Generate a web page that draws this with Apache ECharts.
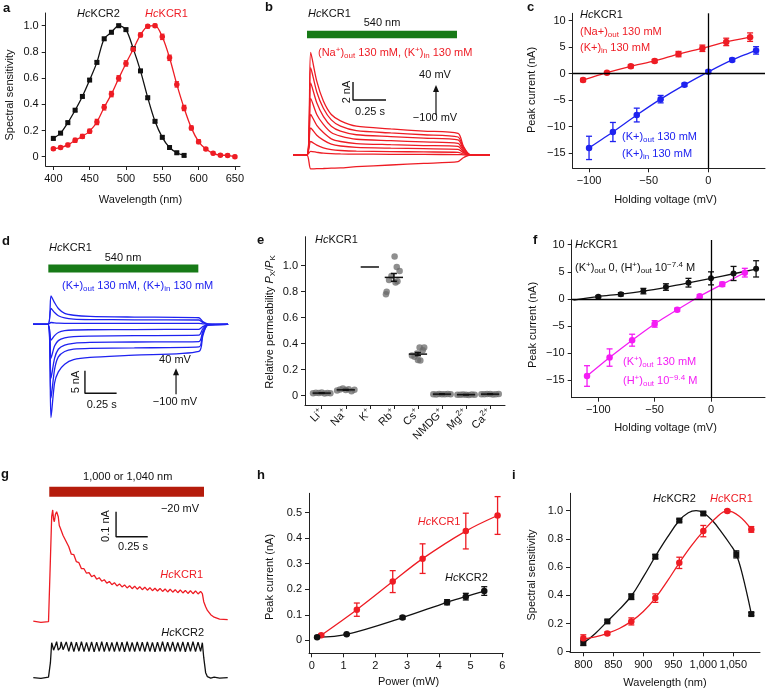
<!DOCTYPE html>
<html><head><meta charset="utf-8">
<script src="https://cdn.jsdelivr.net/npm/echarts@6.0.0/dist/echarts.min.js"></script>
<style>html,body{margin:0;padding:0;background:#fff;}#chart{width:769px;height:693px;}</style>
</head><body><div id="chart"></div>
<script>
const FONT = '"Liberation Sans", Arial, Helvetica, sans-serif';
const RED = '#ee1c24', BLUE = '#1e22f0', MAG = '#f41cf4', BLK = '#111111', GREEN = '#177a17', DKRED = '#b51c0c', GREY = '#6a6a6a';

// ---------- panel a : spectral sensitivity (visible)
const aWl2 = [400,410,420,430,440,450,460,470,480,490,500,510,520,530,540,550,560,570,580];
const aKcr2 = [0.14,0.18,0.26,0.355,0.46,0.585,0.72,0.90,0.95,1.0,0.97,0.825,0.655,0.45,0.27,0.148,0.07,0.03,0.01];
const aKcr2Err = [0.012,0.01,0.01,0.01,0.01,0.01,0.01,0.01,0.01,0.01,0.01,0.01,0.01,0.01,0.01,0.01,0.01,0.01,0.01];
const aWl1 = [400,410,420,430,440,450,460,470,480,490,500,510,520,530,540,550,560,570,580,590,600,610,620,630,640,650];
const aKcr1 = [0.06,0.07,0.09,0.125,0.155,0.195,0.265,0.377,0.478,0.598,0.712,0.82,0.93,0.995,1.0,0.915,0.755,0.552,0.372,0.22,0.115,0.058,0.026,0.012,0.01,0.0];
const aKcr1Err = [0.01,0.01,0.012,0.015,0.015,0.015,0.02,0.02,0.02,0.02,0.02,0.015,0.015,0.012,0.012,0.02,0.02,0.02,0.02,0.015,0.015,0.01,0.01,0.01,0.01,0.01];
const aXTicks = [400,450,500,550,600,650];
const aYTicks = [0,0.2,0.4,0.6,0.8,1.0];

// ---------- panel b : HcKCR1 photocurrents, Na out / K in (time s, current nA)
const bTime = [0,0.105,0.134,0.18,0.23,0.29,0.36,0.48,0.74,0.99,1.25,1.29,1.34,1.49];
const bTrace1 = [0,0,11.4,8.2,6.0,4.5,3.8,3.2,2.9,2.65,2.4,1.0,0.05,0];
const bTrace2 = [0,0,9.7,7.0,5.2,3.9,3.2,2.7,2.45,2.25,2.0,0.85,0.04,0];
const bTrace3 = [0,0,8.0,5.8,4.3,3.2,2.65,2.25,2.05,1.87,1.67,0.7,0.03,0];
const bTrace4 = [0,0,6.3,4.5,3.4,2.5,2.1,1.75,1.6,1.45,1.3,0.55,0.02,0];
const bTrace5 = [0,0,4.5,3.3,2.5,1.8,1.5,1.27,1.15,1.05,0.96,0.4,0.02,0];
const bTrace6 = [0,0,3.0,2.2,1.65,1.2,1.0,0.85,0.76,0.7,0.63,0.26,0,0];
const bTrace7 = [0,0,1.5,1.1,0.8,0.6,0.5,0.42,0.38,0.34,0.3,0.12,0,0];
const bTrace8 = [0,0,0.4,0.3,0.2,0.15,0.12,0.1,0.08,0.06,0.05,0.02,0,0];
const bTrace9 = [0,0,-1.55,-1.52,-1.5,-1.46,-1.43,-1.3,-1.11,-0.93,-0.74,-0.3,0,0];
const bLight = [[0.106,13.4],[1.242,13.4]];
const bScaleBar = [[0.4545,8.11],[0.4545,6.11],[0.7045,6.11]];
const bArrow = [[1.083,4.44],[1.083,7.39]];

// ---------- panel c : I-V
const cNaV = [-105,-85,-65,-45,-25,-5,15,35];
const cNaI = [-1.2,0.2,1.4,2.4,3.7,4.8,6.0,6.9];
const cNaErr = [0.3,0.2,0.3,0.3,0.5,0.6,0.7,0.8];
const cKV = [-100,-80,-60,-40,-20,0,20,40];
const cKI = [-14.0,-11.0,-7.8,-4.8,-2.1,0.35,2.6,4.4];
const cKErr = [2.2,1.8,1.3,0.7,0.3,0.3,0.3,0.7];
const cXTicks = [-100,-50,0];
const cYTicks = [-15,-10,-5,0,5,10];

// ---------- panel d : HcKCR1 photocurrents, K out / K in
const dTime = [0,0.118,0.142,0.17,0.2,0.25,0.32,0.45,0.8,1.31,1.34,1.38,1.54];
const dTrace1 = [0,0,6.3,4.8,3.5,2.4,2.0,1.75,1.6,1.45,0.6,0.1,0];
const dTrace2 = [0,0,3.5,2.6,1.9,1.4,1.15,1.05,1.0,0.95,0.4,0.05,0];
const dTrace3 = [0,0,0.4,0.3,0.25,0.22,0.2,0.2,0.2,0.2,0.1,0,0];
const dTrace4 = [0,0,-3.5,-2.5,-1.8,-1.4,-1.25,-1.2,-1.15,-1.1,-0.5,-0.05,0];
const dTrace5 = [0,0,-7.5,-4.8,-3.6,-3.0,-2.7,-2.6,-2.5,-2.4,-1.0,-0.1,0];
const dTrace6 = [0,0,-11.9,-7.5,-5.5,-4.6,-4.2,-4.0,-3.9,-3.8,-1.6,-0.1,0];
const dTrace7 = [0,0,-16.3,-10.0,-7.2,-6.0,-5.5,-5.3,-5.2,-5.0,-2.1,-0.2,0];
const dTrace8 = [0,0,-20.6,-13.0,-10.5,-8.8,-7.8,-7.3,-6.8,-6.0,-2.6,-0.2,0];
const dLight = [[0.121,12.3],[1.305,12.3]];
const dScaleBar = [[0.41,-10.23],[0.41,-15.23],[0.66,-15.23]];
const dArrow = [[1.129,-15.45],[1.129,-10.49]];

// ---------- panel e : relative permeability
const eIons = ['Li','Na','K','Rb','Cs','NMDG','Mg','Ca'];
const eCharge = ['+','+','+','+','+','+','2+','2+'];
const eMean = [0.02,0.045,0.99,0.91,0.32,0.012,0.008,0.012];
const eSem = [0.002,0.003,0,0.03,0.012,0.002,0.001,0.002];
const eLi = [0.018,0.022,0.02,0.025,0.016,0.021,0.019];
const eNa = [0.04,0.048,0.055,0.043,0.05,0.035,0.045];
const eRb = [1.07,0.99,0.96,0.92,0.89,0.87,0.88,0.80,0.78];
const eCs = [0.37,0.37,0.325,0.30,0.31,0.275,0.27,0.35];
const eNmdg = [0.012,0.01,0.014,0.012,0.011,0.013,0.012];
const eMg = [0.008,0.007,0.009,0.008,0.006,0.009,0.008];
const eCa = [0.012,0.011,0.014,0.013,0.01,0.012,0.013];
const eJit7 = [-0.36,-0.24,-0.12,0,0.12,0.24,0.36];
const eRbJit = [0.03,0.12,0.24,-0.1,-0.2,0.07,0.15,-0.3,-0.33];
const eCsJit = [0.07,0.26,-0.04,-0.14,-0.25,0,0.1,0.2];
const eYTicks = [0,0.2,0.4,0.6,0.8,1.0];

// ---------- panel f : I-V with protons
const fBlkV = [-100,-80,-60,-40,-20,0,20,40];
const fBlkI = [0.43,0.86,1.45,2.2,3.0,3.8,4.7,5.55];
const fBlkErr = [0.2,0.3,0.5,0.6,0.8,1.2,1.3,1.5];
const fBlkFitV = [-122,-100,-80,-60,-40,-20,0,20,40];
const fBlkFitI = [-0.2,0.45,0.9,1.45,2.15,2.95,3.8,4.65,5.5];
const fMagV = [-110,-90,-70,-50,-30,-10,10,30];
const fMagI = [-14.2,-10.8,-7.6,-4.6,-2.0,0.5,2.7,4.85];
const fMagErr = [1.9,1.6,1.1,0.6,0.3,0.3,0.4,0.8];

// ---------- panel g : two-photon traces (time s, current nA)
const gTime = [0,0.06,0.12,0.126,0.135,0.145,0.153,0.16,0.166,0.175,0.184,0.197,0.205,0.213,0.22,0.235,0.245,0.26,
 0.28,0.30,0.32,0.34,0.36,0.38,0.40,0.42,0.44,0.46,0.48,0.50,0.52,0.54,0.56,0.58,0.60,0.62,0.64,0.66,0.68,0.70,
 0.72,0.74,0.76,0.78,0.80,0.82,0.84,0.86,0.88,0.90,0.92,0.94,0.96,0.98,1.00,1.02,1.04,1.06,1.08,1.10,1.12,1.14,
 1.16,1.18,1.20,1.22,1.24,1.26,1.28,1.30,1.32,
 1.334,1.345,1.36,1.374,1.40,1.427,1.47,1.534];
const gKcr1 = [0.002,-0.003,0.0,0.0,0.25,0.42,0.447,0.41,0.40,0.43,0.44,0.42,0.385,0.375,0.38,0.345,0.335,0.33,
 0.300,0.270,0.268,0.240,0.236,0.212,0.212,0.194,0.196,0.180,0.186,0.170,0.176,0.162,0.168,0.154,0.161,0.148,0.156,0.143,0.151,0.139,
 0.147,0.135,0.144,0.132,0.142,0.130,0.140,0.128,0.138,0.126,0.136,0.124,0.134,0.123,0.133,0.121,0.131,0.119,0.130,0.118,0.128,0.116,
 0.127,0.115,0.125,0.113,0.124,0.112,0.123,0.111,0.121,
 0.112,0.08,0.06,0.045,0.028,0.018,0.01,0.008];
const gKcr2 = [0.0,-0.003,0.002,0.0,0.06,0.14,0.125,0.11,0.105,0.13,0.144,0.11,0.106,0.12,0.143,0.112,0.106,0.143,
 0.105,0.143,0.104,0.142,0.106,0.144,0.104,0.141,0.105,0.143,0.103,0.142,0.105,0.144,0.104,0.142,0.106,0.141,0.104,0.143,0.105,0.142,
 0.103,0.144,0.105,0.141,0.104,0.143,0.106,0.142,0.104,0.143,0.105,0.141,0.103,0.142,0.105,0.144,0.104,0.142,0.106,0.143,0.104,0.141,
 0.105,0.143,0.103,0.142,0.105,0.144,0.104,0.142,0.105,
 0.14,0.08,0.02,0.004,-0.002,0.002,-0.002,0.0];
const gLight = [[0.126,0.52],[1.347,0.52]];
const gScaleBar = [[0.653,0.44],[0.653,0.34],[0.903,0.34]];

// ---------- panel h : power dependence
const hP1 = [0.3,1.42,2.55,3.49,4.85,5.85];
const hI1 = [0.02,0.12,0.23,0.32,0.428,0.489];
const hE1 = [0.005,0.026,0.043,0.058,0.07,0.074];
const hP2 = [0.17,1.1,2.86,4.26,4.85,5.43];
const hI2 = [0.012,0.0235,0.089,0.149,0.171,0.193];
const hE2 = [0.004,0.003,0.006,0.01,0.013,0.017];

// ---------- panel i : two-photon action spectra
const iWl1 = [800,840,880,920,960,1000,1040,1080];
const iKcr1 = [0.095,0.13,0.215,0.38,0.63,0.855,0.997,0.867];
const iKcr1Err = [0.025,0.01,0.025,0.03,0.04,0.04,0.01,0.02];
const iWl2 = [800,840,880,920,960,1000,1055,1080];
const iKcr2 = [0.064,0.215,0.39,0.674,0.93,0.98,0.69,0.267];
const iKcr2Err = [0.02,0.01,0.02,0.015,0.01,0.01,0.025,0.01];
const iFit1Wl = [800,820,840,860,880,900,920,940,960,980,1000,1020,1040,1060,1080];
const iFit1 = [0.09,0.105,0.13,0.165,0.215,0.285,0.38,0.5,0.63,0.75,0.855,0.945,0.998,0.96,0.867];
const iFit2Wl = [800,820,840,860,880,900,920,940,960,975,988,1000,1015,1030,1045,1055,1065,1080];
const iFit2 = [0.06,0.13,0.215,0.3,0.395,0.53,0.675,0.81,0.93,0.985,1.0,0.985,0.93,0.85,0.76,0.69,0.55,0.27];

// ================= chart construction =================
const RICH = {
  it: {fontStyle: 'italic', fontSize: 11, fontFamily: FONT},
  sub: {fontSize: 8, fontFamily: FONT, padding: [6, 0, 0, 0]},
  sup: {fontSize: 8, fontFamily: FONT, padding: [0, 0, 7, 0]}
};
const fmtDec = v => Math.abs(v) < 1e-9 ? '0' : v.toFixed(1);
const fmtInt = v => (v < 0 ? '\u2212' : '') + Math.abs(v);

const grids = [
  {left: 45.7, top: 13, width: 194.3, height: 153},
  {left: 293, top: 24.5, width: 197, height: 157.5},
  {left: 572.7, top: 13.3, width: 192.3, height: 155},
  {left: 33, top: 260.9, width: 195.1, height: 167.6},
  {left: 305, top: 236.7, width: 200, height: 168.3},
  {left: 571.7, top: 240, width: 193.3, height: 157.7},
  {left: 33.3, top: 481.7, width: 194.4, height: 145},
  {left: 33.3, top: 627.7, width: 194.4, height: 62.5},
  {left: 309, top: 493.3, width: 194.3, height: 160},
  {left: 570, top: 493.3, width: 190, height: 159}
];

function visAxis(gi, min, max, ticks, fmt, extraLabel) {
  return {
    type: 'value', gridIndex: gi, min, max,
    axisLine: {show: true, onZero: false, lineStyle: {color: '#222', width: 1}},
    axisTick: {show: true, customValues: ticks, length: 4, lineStyle: {color: '#222', width: 1}},
    axisLabel: Object.assign({show: true, customValues: ticks, formatter: fmt, fontSize: 11, fontFamily: FONT, color: '#111', margin: 7}, extraLabel || {}),
    splitLine: {show: false}
  };
}
function hidAxis(gi, min, max) { return {type: 'value', gridIndex: gi, min, max, show: false, splitLine: {show: false}}; }

const xAxis = [
  visAxis(0, 389.5, 657, aXTicks, v => String(v)),
  hidAxis(1, 0, 1.492),
  visAxis(2, -113.7, 47.5, cXTicks, fmtInt),
  hidAxis(3, 0, 1.54),
  visAxis(4, 0.305, 8.62, [1,2,3,4,5,6,7,8], v => { const i = Math.round(v) - 1; return '{n|' + eIons[i] + '}{s|' + eCharge[i] + '}'; },
    {rotate: 45, margin: 6, rich: {n: {fontSize: 11, fontFamily: FONT}, s: {fontSize: 8, fontFamily: FONT, padding: [0, 0, 7, 0]}}}),
  visAxis(5, -123.6, 47.9, cXTicks, fmtInt),
  hidAxis(6, 0, 1.534),
  hidAxis(7, 0, 1.534),
  visAxis(8, -0.085, 6.03, [0,1,2,3,4,5,6], v => String(v)),
  visAxis(9, 777.8, 1094.5, [800,850,900,950,1000,1050], v => v >= 1000 ? '1,' + String(v).slice(1) : String(v))
];
const yAxis = [
  visAxis(0, -0.071, 1.097, aYTicks, fmtDec),
  hidAxis(1, -3, 14.5),
  visAxis(2, -17.85, 11.4, cYTicks, fmtInt),
  hidAxis(3, -23, 14),
  visAxis(4, -0.0715, 1.223, eYTicks, fmtDec),
  visAxis(5, -18.2, 10.87, cYTicks, fmtInt),
  hidAxis(6, -0.02, 0.56),
  hidAxis(7, -0.05, 0.2),
  visAxis(8, -0.051, 0.576, [0,0.1,0.2,0.3,0.4,0.5], fmtDec),
  visAxis(9, -0.004, 1.123, [0,0.2,0.4,0.6,0.8,1.0], fmtDec)
];

const S = [];
const ax = i => ({xAxisIndex: i, yAxisIndex: i});
const pairs = (xs, ys) => xs.map((x, k) => [x, ys[k]]);
function line(gi, data, color, width, smooth, extra) {
  return Object.assign({type: 'line', ...ax(gi), data, symbol: 'none', showSymbol: false, smooth: smooth || false,
    lineStyle: {color, width, cap: 'butt'}, silent: true, z: 2}, extra || {});
}
function pts(gi, data, color, symbol, size) {
  return {type: 'scatter', ...ax(gi), data, symbol, symbolSize: size, itemStyle: {color, opacity: 1}, silent: true, z: 4};
}
function errs(gi, xs, ys, es, color, cap) {
  return {type: 'custom', ...ax(gi), silent: true, z: 3, encode: {x: 0, y: 1},
    data: xs.map((x, k) => [x, ys[k], es[k]]),
    renderItem(params, api) {
      const x = api.value(0), y = api.value(1), e = api.value(2);
      const t = api.coord([x, y + e]), b = api.coord([x, y - e]);
      const st = {stroke: color, lineWidth: 1.3, fill: null};
      return {type: 'group', children: [
        {type: 'line', shape: {x1: t[0], y1: t[1], x2: b[0], y2: b[1]}, style: st},
        {type: 'line', shape: {x1: t[0] - cap, y1: t[1], x2: t[0] + cap, y2: t[1]}, style: st},
        {type: 'line', shape: {x1: b[0] - cap, y1: b[1], x2: b[0] + cap, y2: b[1]}, style: st}
      ]};
    }};
}
function arrow(gi, a) {
  return {type: 'line', ...ax(gi), symbol: 'none', showSymbol: true, silent: true, z: 3,
    data: [{value: a[0], symbol: 'none'}, {value: a[1], symbol: 'triangle', symbolSize: [6, 7]}],
    lineStyle: {color: BLK, width: 1.2}, itemStyle: {color: BLK}};
}

// a
S.push(line(0, pairs(aWl2, aKcr2), BLK, 1.3, 0.3));
S.push(line(0, pairs(aWl1, aKcr1), RED, 1.3, 0.3));
S.push(errs(0, aWl2, aKcr2, aKcr2Err, BLK, 2.2));
S.push(errs(0, aWl1, aKcr1, aKcr1Err, RED, 2.2));
S.push(pts(0, pairs(aWl2, aKcr2), BLK, 'rect', 5));
S.push(pts(0, pairs(aWl1, aKcr1), RED, 'circle', 5.5));

// b
[bTrace1, bTrace2, bTrace3, bTrace4, bTrace5, bTrace6, bTrace7, bTrace8, bTrace9]
  .forEach(t => S.push(line(1, pairs(bTime, t), RED, 1.3, 0.25)));
S.push(line(1, bLight, GREEN, 7.5));
S.push(line(1, bScaleBar, BLK, 1.4));
S.push(arrow(1, bArrow));

// c
S.push(line(2, pairs(cNaV, cNaI), RED, 1.3, 0.2, {markLine: {silent: true, symbol: ['none', 'none'], label: {show: false},
  lineStyle: {color: '#000', width: 1.3, type: 'solid'}, data: [{yAxis: 0}, {xAxis: 0}]}}));
S.push(line(2, pairs(cKV, cKI), BLUE, 1.3, 0.2));
S.push(errs(2, cNaV, cNaI, cNaErr, RED, 3));
S.push(errs(2, cKV, cKI, cKErr, BLUE, 3));
S.push(pts(2, pairs(cNaV, cNaI), RED, 'circle', 6.5));
S.push(pts(2, pairs(cKV, cKI), BLUE, 'circle', 6.5));

// d
[dTrace1, dTrace2, dTrace3, dTrace4, dTrace5, dTrace6, dTrace7, dTrace8]
  .forEach(t => S.push(line(3, pairs(dTime, t), BLUE, 1.3, 0.25)));
S.push(line(3, dLight, GREEN, 8));
S.push(line(3, dScaleBar, BLK, 1.4));
S.push(arrow(3, dArrow));

// e
const eGroups = [[eLi, eJit7, 1], [eNa, eJit7, 2], [eRb, eRbJit, 4], [eCs, eCsJit, 5], [eNmdg, eJit7, 6], [eMg, eJit7, 7], [eCa, eJit7, 8]];
eGroups.forEach(g => S.push({type: 'scatter', ...ax(4), silent: true, z: 2, symbolSize: 6.5,
  itemStyle: {color: GREY, opacity: 0.75}, data: g[0].map((v, k) => [g[2] + g[1][k], v])}));
S.push({type: 'custom', ...ax(4), silent: true, z: 5, encode: {x: 0, y: 1},
  data: eMean.map((m, k) => [k + 1, m, eSem[k]]),
  renderItem(params, api) {
    const x = api.value(0), m = api.value(1), e = api.value(2);
    const l = api.coord([x - 0.38, m]), r = api.coord([x + 0.38, m]);
    const st = {stroke: BLK, lineWidth: 1.5, fill: null};
    const ch = [{type: 'line', shape: {x1: l[0], y1: l[1], x2: r[0], y2: r[1]}, style: st}];
    if (e > 0) {
      const t = api.coord([x, m + e]), b = api.coord([x, m - e]);
      ch.push({type: 'line', shape: {x1: t[0], y1: t[1], x2: b[0], y2: b[1]}, style: st});
      ch.push({type: 'line', shape: {x1: t[0] - 3, y1: t[1], x2: t[0] + 3, y2: t[1]}, style: st});
      ch.push({type: 'line', shape: {x1: b[0] - 3, y1: b[1], x2: b[0] + 3, y2: b[1]}, style: st});
    }
    return {type: 'group', children: ch};
  }});

// f
S.push(line(5, pairs(fBlkFitV, fBlkFitI), BLK, 1.3, 0.3, {markLine: {silent: true, symbol: ['none', 'none'], label: {show: false},
  lineStyle: {color: '#000', width: 1.3, type: 'solid'}, data: [{yAxis: 0}, {xAxis: 0}]}}));
S.push(line(5, pairs(fMagV, fMagI), MAG, 1.3, 0.2));
S.push(errs(5, fBlkV, fBlkI, fBlkErr, BLK, 3));
S.push(errs(5, fMagV, fMagI, fMagErr, MAG, 3));
S.push(pts(5, pairs(fBlkV, fBlkI), BLK, 'circle', 6));
S.push(pts(5, pairs(fMagV, fMagI), MAG, 'circle', 6.5));

// g
S.push(line(6, gLight, DKRED, 10));
S.push(line(6, pairs(gTime, gKcr1), RED, 1.3, false));
S.push(line(7, pairs(gTime, gKcr2), BLK, 1.3, false));
S.push(line(6, gScaleBar, BLK, 1.4));

// h
S.push(line(8, pairs(hP1, hI1), RED, 1.3, 0.35));
S.push(line(8, pairs(hP2, hI2), BLK, 1.3, 0.35));
S.push(errs(8, hP1, hI1, hE1, RED, 3));
S.push(errs(8, hP2, hI2, hE2, BLK, 3));
S.push(pts(8, pairs(hP1, hI1), RED, 'circle', 6.5));
S.push(pts(8, pairs(hP2, hI2), BLK, 'circle', 6.5));

// i
S.push(line(9, pairs(iFit2Wl, iFit2), BLK, 1.3, 0.4));
S.push(line(9, pairs(iFit1Wl, iFit1), RED, 1.3, 0.4));
S.push(errs(9, iWl2, iKcr2, iKcr2Err, BLK, 3));
S.push(errs(9, iWl1, iKcr1, iKcr1Err, RED, 3));
S.push(pts(9, pairs(iWl2, iKcr2), BLK, 'rect', 6));
S.push(pts(9, pairs(iWl1, iKcr1), RED, 'circle', 6.5));

// ---------- texts
const G = [];
const ROT = Math.PI / 2;
function T(x, y, text, o) {
  o = o || {};
  const al = o.align || 'left';
  G.push({type: 'text', x, y, rotation: o.rot || 0, z: 10, silent: true,
    style: {text, fill: o.color || BLK, fontSize: o.size || 11, fontFamily: FONT, fontWeight: o.bold ? 'bold' : 'normal',
      align: al, verticalAlign: 'middle', textAlign: al, textVerticalAlign: 'middle', rich: RICH}});
}
const C = {align: 'center'};
// panel letters
T(3, 8, 'a', {bold: true, size: 13}); T(265, 7, 'b', {bold: true, size: 13}); T(527, 7, 'c', {bold: true, size: 13});
T(2, 241, 'd', {bold: true, size: 13}); T(257, 240, 'e', {bold: true, size: 13}); T(533, 240, 'f', {bold: true, size: 13});
T(1, 474, 'g', {bold: true, size: 13}); T(257, 475, 'h', {bold: true, size: 13}); T(512, 475, 'i', {bold: true, size: 13});
// a
T(98.5, 14, '{it|Hc}KCR2', C); T(166.5, 14, '{it|Hc}KCR1', {align: 'center', color: RED});
T(10, 95, 'Spectral sensitivity', {align: 'center', rot: ROT}); T(140.5, 200, 'Wavelength (nm)', C);
// b
T(308, 14, '{it|Hc}KCR1'); T(382, 23, '540 nm', C);
T(318, 53, '(Na{sup|+}){sub|out} 130 mM, (K{sup|+}){sub|in} 130 mM', {color: RED});
T(435, 75, '40 mV', C); T(435, 118, '\u2212100 mV', C);
T(347, 92, '2 nA', {align: 'center', rot: ROT}); T(370, 112, '0.25 s', C);
// c
T(580, 15, '{it|Hc}KCR1');
T(580, 32, '(Na+){sub|out} 130 mM', {color: RED}); T(580, 48, '(K+){sub|in} 130 mM', {color: RED});
T(622, 137, '(K+){sub|out} 130 mM', {color: BLUE}); T(622, 154, '(K+){sub|in} 130 mM', {color: BLUE});
T(531.5, 90, 'Peak current (nA)', {align: 'center', rot: ROT}); T(665.5, 200, 'Holding voltage (mV)', C);
// d
T(49, 248, '{it|Hc}KCR1'); T(123, 258, '540 nm', C);
T(62, 286, '(K+){sub|out} 130 mM, (K+){sub|in} 130 mM', {color: BLUE});
T(175, 360, '40 mV', C); T(175, 402, '\u2212100 mV', C);
T(76, 382, '5 nA', {align: 'center', rot: ROT}); T(101.7, 405, '0.25 s', C);
// e
T(315, 240, '{it|Hc}KCR1');
T(270, 322, 'Relative permeability {it|P}{sub|X}/{it|P}{sub|K}', {align: 'center', rot: ROT});
// f
T(575, 245, '{it|Hc}KCR1');
T(575, 268, '(K{sup|+}){sub|out} 0, (H{sup|+}){sub|out} 10{sup|\u22127.4} M');
T(623, 362, '(K{sup|+}){sub|out} 130 mM', {color: MAG}); T(623, 381, '(H{sup|+}){sub|out} 10{sup|\u22129.4} M', {color: MAG});
T(533, 325, 'Peak current (nA)', {align: 'center', rot: ROT}); T(665.5, 428, 'Holding voltage (mV)', C);
// g
T(127.7, 477, '1,000 or 1,040 nm', C); T(180, 509, '\u221220 mV', C);
T(106, 526, '0.1 nA', {align: 'center', rot: ROT}); T(133, 547, '0.25 s', C);
T(203, 575, '{it|Hc}KCR1', {align: 'right', color: RED}); T(204, 633, '{it|Hc}KCR2', {align: 'right'});
// h
T(417.7, 522, '{it|Hc}KCR1', {color: RED}); T(445, 578, '{it|Hc}KCR2');
T(270, 577, 'Peak current (nA)', {align: 'center', rot: ROT}); T(408.5, 682, 'Power (mW)', C);
// i
T(653, 499, '{it|Hc}KCR2'); T(710, 499, '{it|Hc}KCR1', {color: RED});
T(532, 575, 'Spectral sensitivity', {align: 'center', rot: ROT}); T(665, 683, 'Wavelength (nm)', C);

const chart = echarts.init(document.getElementById('chart'), null, {renderer: 'canvas'});
chart.setOption({
  animation: false,
  backgroundColor: '#ffffff',
  textStyle: {fontFamily: FONT},
  grid: grids,
  xAxis, yAxis,
  series: S,
  graphic: G
});
</script></body></html>
